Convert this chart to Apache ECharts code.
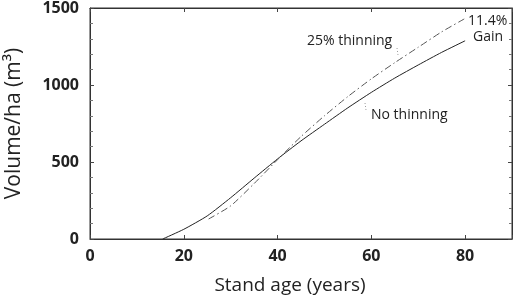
<!DOCTYPE html>
<html>
<head>
<meta charset="utf-8">
<script src="https://cdn.jsdelivr.net/npm/echarts@6/dist/echarts.min.js"></script>
<style>
  html, body { margin: 0; padding: 0; background: #fff; }
  #chart { width: 517px; height: 303px; }
</style>
</head>
<body>
<div id="chart"></div>
<script>
// stand age (years) and volume (m3/ha)
const noThinAge = [15.5, 20, 25, 30, 35, 40, 45, 50, 55, 60, 65, 70, 75, 80];
const noThinVol = [0, 63, 150, 268, 395, 520, 637, 745, 852, 952, 1045, 1130, 1212, 1287];

const thinAge = [25.3, 30, 35, 40, 45, 50, 55, 60, 65, 70, 75, 80];
const thinVol = [130, 215, 360, 515, 665, 800, 925, 1040, 1145, 1245, 1345, 1432];

const xTicks = [0, 20, 40, 60, 80];
const yTicks = [0, 500, 1000, 1500];

const font = '"Open Sans", "DejaVu Sans", sans-serif';

const chart = echarts.init(document.getElementById('chart'));

function pairs(xs, ys) {
  return xs.map((x, i) => [x, ys[i]]);
}

const tickStyle = { show: true, inside: true, length: 4, lineStyle: { color: '#444' } };
const minorStyle = { show: true, splitNumber: 5, length: 3, lineStyle: { color: '#777' } };

const option = {
  animation: false,
  grid: {
    left: 90, right: 5, top: 8, bottom: 64,
    outerBoundsMode: 'none',
    containLabel: false,
    show: true, borderColor: '#333', borderWidth: 1
  },
  xAxis: [{
    type: 'value',
    min: 0,
    max: 90,
    interval: 20,
    name: 'Stand age (years)',
    nameLocation: 'middle',
    nameGap: 37,
    nameTextStyle: { fontFamily: font, fontSize: 19, color: '#222', padding: [0, 22, 0, 0] },
    axisLine: { onZero: false, lineStyle: { color: '#333' } },
    axisTick: tickStyle,
    splitLine: { show: false },
    axisLabel: {
      fontFamily: font, fontSize: 16, fontWeight: 'bold', color: '#222', margin: 9,
      formatter: v => xTicks.indexOf(v) >= 0 ? v : ''
    }
  }, {
    type: 'value',
    position: 'top',
    min: 0,
    max: 90,
    interval: 20,
    axisLine: { show: true, onZero: false, lineStyle: { color: '#333' } },
    axisTick: tickStyle,
    axisLabel: { show: false },
    splitLine: { show: false }
  }],
  yAxis: [{
    type: 'value',
    min: 0,
    max: 1500,
    interval: 500,
    name: 'Volume/ha (m³)',
    nameLocation: 'middle',
    nameGap: 65,
    nameTextStyle: { fontFamily: font, fontSize: 21, color: '#222' },
    axisLine: { show: true, onZero: false, lineStyle: { color: '#333' } },
    axisTick: tickStyle,
    minorTick: minorStyle,
    splitLine: { show: false },
    axisLabel: {
      fontFamily: font, fontSize: 16, fontWeight: 'bold', color: '#222', margin: 11,
      formatter: v => yTicks.indexOf(v) >= 0 ? v : ''
    }
  }, {
    type: 'value',
    position: 'right',
    min: 0,
    max: 1500,
    interval: 500,
    axisLine: { show: true, onZero: false, lineStyle: { color: '#333' } },
    axisTick: tickStyle,
    minorTick: minorStyle,
    axisLabel: { show: false },
    splitLine: { show: false }
  }],
  series: [{
    name: 'No thinning',
    type: 'line',
    data: pairs(noThinAge, noThinVol),
    smooth: 0.2,
    showSymbol: false,
    lineStyle: { color: '#222', width: 1 }
  }, {
    name: '25% thinning',
    type: 'line',
    data: pairs(thinAge, thinVol),
    smooth: 0.2,
    showSymbol: false,
    lineStyle: { color: '#555', width: 1, type: [7, 3, 1.5, 3] }
  }],
  graphic: [
    { type: 'text', left: 307, top: 34, style: { text: '25% thinning', font: '14px ' + font, fill: '#222' } },
    { type: 'text', left: 371, top: 108, style: { text: 'No thinning', font: '14px ' + font, fill: '#222' } },
    { type: 'text', left: 468, top: 14, style: { text: '11.4%', font: '14px ' + font, fill: '#222' } },
    { type: 'text', left: 473, top: 30, style: { text: 'Gain', font: '14px ' + font, fill: '#222' } },
    // small leader marks pointing at the curves
    { type: 'line', shape: { x1: 397, y1: 48, x2: 398, y2: 55 }, style: { stroke: '#999', lineWidth: 1, lineDash: [1, 2] } },
    { type: 'line', shape: { x1: 365, y1: 103, x2: 366, y2: 110 }, style: { stroke: '#999', lineWidth: 1, lineDash: [1, 2] } }
  ]
};

chart.setOption(option);
</script>
</body>
</html>
